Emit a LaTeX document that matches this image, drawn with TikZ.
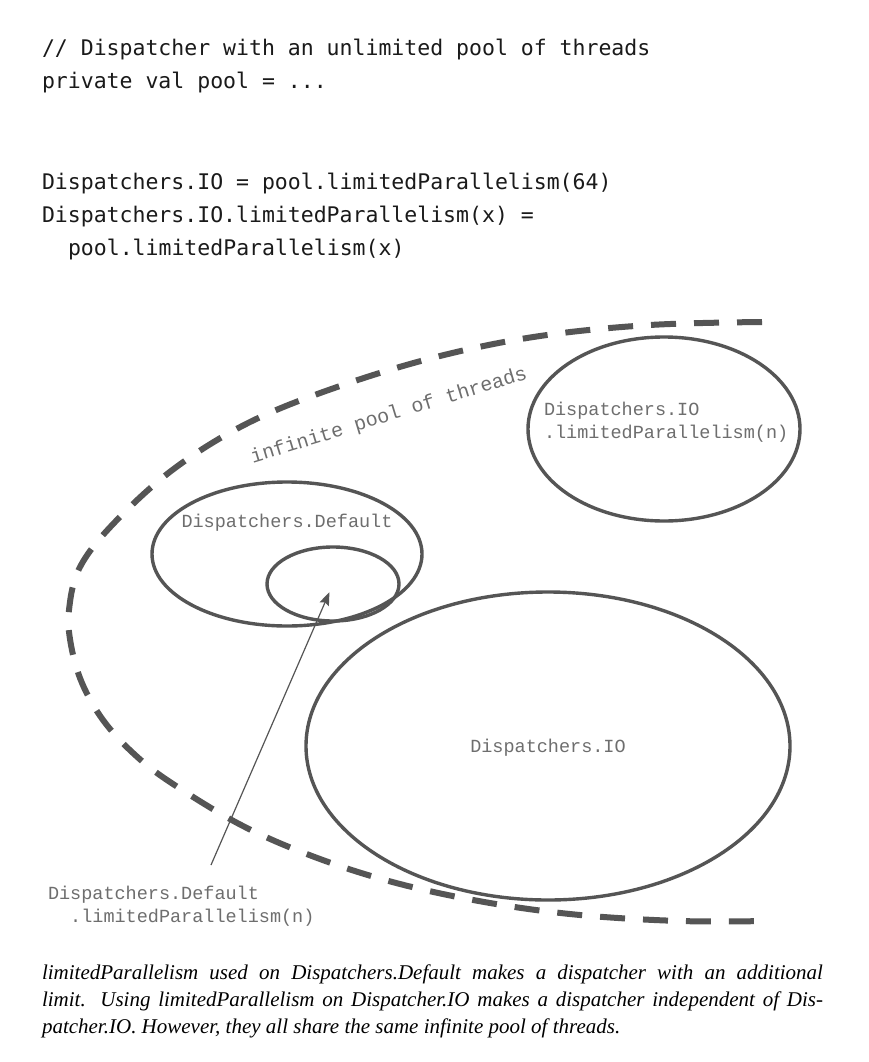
\documentclass[tikz,border=0pt]{standalone}
\usepackage{fontspec}
\setmonofont{DejaVu Sans Mono}
\newfontfamily\courierfont{Liberation Mono}
\newfontfamily\captionfont{Liberation Serif}
\usetikzlibrary{shapes.geometric, arrows.meta}
\definecolor{linegray}{HTML}{555555}
\definecolor{labelgray}{HTML}{6E6E6E}
\definecolor{codeblack}{HTML}{1A1A1A}

\begin{document}
\begin{tikzpicture}[x=1pt, y=-1pt]
	\tikzstyle{every node}=[inner sep=0pt, outer sep=0pt]
	\tikzstyle{code}=[anchor=base west, font=\fontsize{21.5}{26}\selectfont\ttfamily, text=codeblack]
	\tikzstyle{disp}=[draw=linegray, line width=3.4pt, ellipse]
	\tikzstyle{lbl}=[font=\fontsize{18.5}{22.5}\selectfont\courierfont, text=labelgray, align=left]
	\useasboundingbox[fill=white] (0,0) rectangle (868,1062);
	% code
	\node[code] (c1) at (42,56) {// Dispatcher with an unlimited pool of threads};
	\node[code] (c2) at (42,89) {private val pool = ...};
	\node[code] (c3) at (42,189) {Dispatchers.IO = pool.limitedParallelism(64)};
	\node[code] (c4) at (42,222) {Dispatchers.IO.limitedParallelism(x) =};
	\node[code] (c5) at (68,255) {pool.limitedParallelism(x)};
	% pool of threads
	\draw[linegray, line width=6pt, dash pattern=on 25pt off 18pt] plot[smooth, tension=0.6] coordinates {
		(762,322) (650,325) (540,336) (440,356) (340,386) (250,422) (175,468) (115,522)
		(80,567) (69,610) (71,645) (82,683) (103,720) (133,753) (170,782) (243,826)
		(320,859) (400,884) (490,903) (580,915) (680,921) (768,921)};
	\node[lbl, font=\fontsize{20}{24}\selectfont\courierfont, rotate=17] (poollbl) at (389,416) {infinite pool of threads};
	% dispatchers
	\node[disp, minimum width=272, minimum height=184] (iolim) at (664,429) {};
	\node[lbl, anchor=west] (iolimtext) at (544,422) {Dispatchers.IO\\.limitedParallelism(n)};
	\node[disp, minimum width=270, minimum height=144] (def) at (287,554) {};
	\node[lbl] (deftext) at (287,523) {Dispatchers.Default};
	\node[disp, minimum width=132, minimum height=74] (deflim) at (333,584) {};
	\node[disp, minimum width=484, minimum height=308] (io) at (548,746) {};
	\node[lbl] (iotext) at (548,748) {Dispatchers.IO};
	% arrow
	\node[lbl, anchor=west] (deflimtext) at (48,906) {Dispatchers.Default\\\phantom{Di}.limitedParallelism(n)};
	\coordinate (dtail) at (211,865);
	\draw[-{Stealth[length=13pt, width=10pt, inset=2pt]}, linegray, line width=1.2pt, shorten >=9pt] (dtail) -- (deflim.center);
	% caption
	\node[anchor=north west, text width=781, align=justify, font=\fontsize{21}{27}\selectfont\captionfont\itshape] (caption) at (42,965) {\hyphenpenalty=10000 limitedParallelism used on Dispatchers.Default makes a dispatcher with an additional\linebreak limit. Using limitedParallelism on Dispatcher.IO makes a dispatcher independent of Dis-\linebreak patcher.IO. However, they all share the same infinite pool of threads.};
\end{tikzpicture}
\end{document}
